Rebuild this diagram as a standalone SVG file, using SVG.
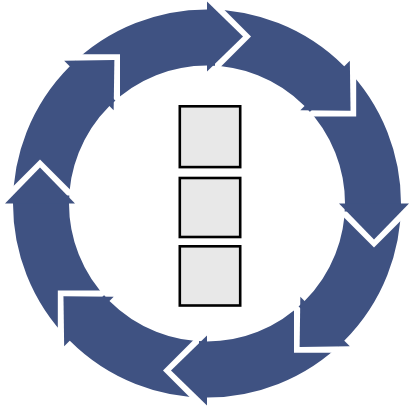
<svg xmlns="http://www.w3.org/2000/svg" width="410" height="410" viewBox="0 0 410 410">
  <style>
    .ring { fill: none; stroke: #3F5282; stroke-width: 56; }
    .head { fill: #3F5282; }
    .gap { fill: #FFFFFF; }
    .box { fill: #E8E8E8; stroke: #000000; stroke-width: 2.6; }
  </style>
  <defs>
    <polygon id="gapShape" points="8,-203 44,-167 8,-131"/>
    <polygon id="headShape" points="0,-202 36,-167 0,-132"/>
  </defs>
  <rect width="410" height="410" fill="#FFFFFF"/>
  <g id="cycle-arrows" transform="translate(207,203.5)">
    <circle class="ring" cx="0" cy="0" r="166"/>
    <g id="arrow-1" transform="rotate(0)"><use href="#gapShape" class="gap"/><use href="#headShape" class="head"/></g>
    <g id="arrow-2" transform="rotate(45)"><use href="#gapShape" class="gap"/><use href="#headShape" class="head"/></g>
    <g id="arrow-3" transform="rotate(90)"><use href="#gapShape" class="gap"/><use href="#headShape" class="head"/></g>
    <g id="arrow-4" transform="rotate(135)"><use href="#gapShape" class="gap"/><use href="#headShape" class="head"/></g>
    <g id="arrow-5" transform="rotate(180)"><use href="#gapShape" class="gap"/><use href="#headShape" class="head"/></g>
    <g id="arrow-6" transform="rotate(225)"><use href="#gapShape" class="gap"/><use href="#headShape" class="head"/></g>
    <g id="arrow-7" transform="rotate(270)"><use href="#gapShape" class="gap"/><use href="#headShape" class="head"/></g>
    <g id="arrow-8" transform="rotate(315)"><use href="#gapShape" class="gap"/><use href="#headShape" class="head"/></g>
  </g>
  <g id="box-1"><rect class="box" x="179.8" y="106.3" width="60.4" height="60.8"/></g>
  <g id="box-2"><rect class="box" x="179.8" y="178" width="60.4" height="59"/></g>
  <g id="box-3"><rect class="box" x="179.8" y="246.3" width="60.4" height="59.2"/></g>
</svg>
